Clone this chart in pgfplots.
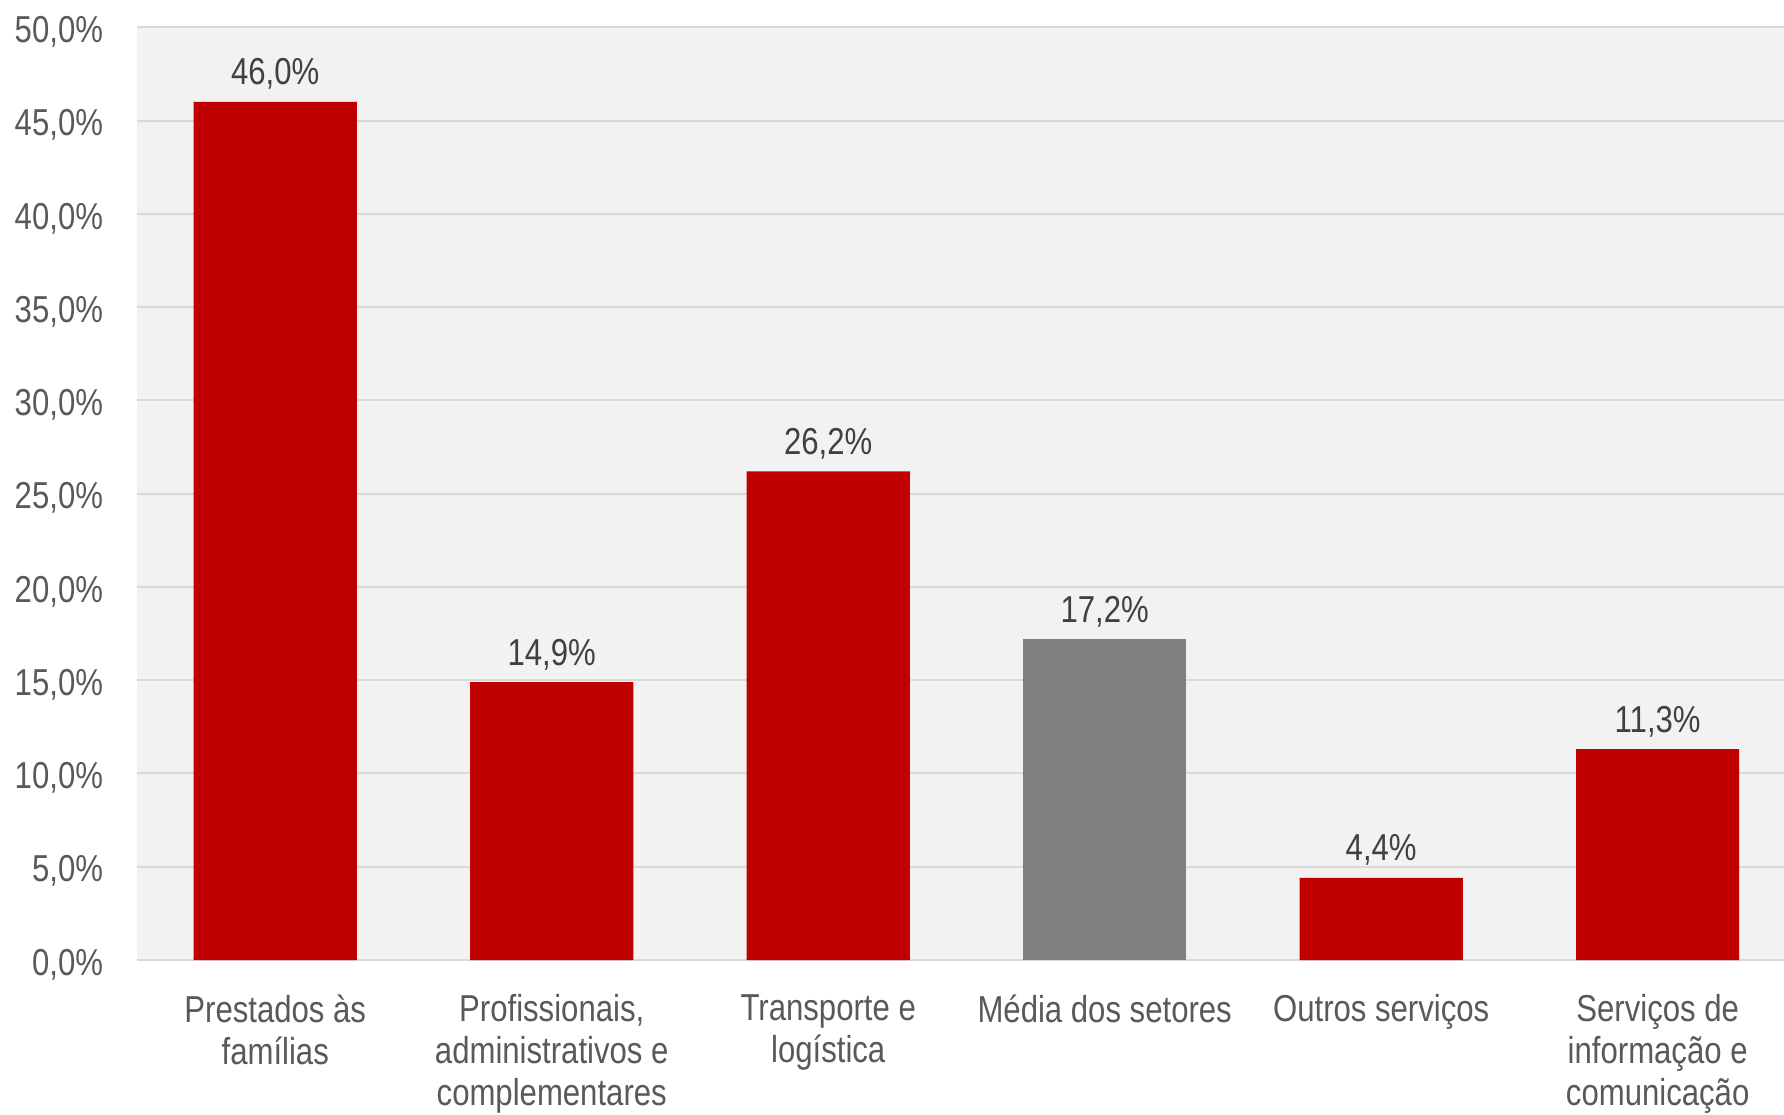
\documentclass[border=0pt]{standalone}
\usepackage{pgfplots}
\pgfplotsset{compat=1.18}
\usepackage{fontspec}
\setmainfont{Liberation Sans}[FakeStretch=0.83]
\definecolor{barred}{HTML}{C00000}
\definecolor{bargray}{HTML}{808080}
\definecolor{bgc}{HTML}{F2F2F2}
\definecolor{gridc}{HTML}{D9D9D9}
\definecolor{tickc}{HTML}{595959}
\definecolor{labc}{HTML}{404040}
\begin{document}
\begin{tikzpicture}
\clip (0,0) rectangle (713.6pt,445.6pt);
\begin{axis}[
  at={(54.8pt,61.6pt)}, anchor=south west,
  scale only axis, width=658.8pt, height=373.08pt,
  xmin=-0.5, xmax=5.457, ymin=0, ymax=50,
  axis background/.style={fill=bgc},
  axis line style={draw=none},
  ymajorgrids, grid style={gridc, line width=0.8pt},
  ytick={0,5,10,15,20,25,30,35,40,45,50},
  major tick length=0pt,
  xtick={0,1,2,3,4,5},
  xticklabels={{Prestados às\\famílias},{Profissionais,\\administrativos e\\complementares},{Transporte e\\logística},{Média dos setores},{Outros serviços},{Serviços de\\informação e\\comunicação}},
  /pgf/number format/assume math mode=true,
  every tick label/.append style={font=\fontsize{15}{16.8}\selectfont, text=tickc},
  xticklabel style={align=center, anchor=north, inner sep=0pt, yshift=-13.6pt},
  yticklabel style={anchor=east, inner sep=0pt, xshift=-13.4pt, yshift=-1.8pt},
  yticklabel={\pgfmathprintnumber[fixed,fixed zerofill,precision=1,use comma]{\tick}\%},
  ybar, bar width=0.59,
  nodes near coords={\pgfmathprintnumber[fixed,fixed zerofill,precision=1,use comma,assume math mode=true]{\pgfplotspointmeta}\%},
  nodes near coords style={anchor=base, inner sep=0pt, yshift=6.8pt, font=\fontsize{15}{18}\selectfont, text=labc},
]
\addplot[bar shift=0pt, fill=barred, draw=none] coordinates {(0,46.0) (1,14.9) (2,26.2) (4,4.4) (5,11.3)};
\addplot[bar shift=0pt, fill=bargray, draw=none] coordinates {(3,17.2)};
\end{axis}
\end{tikzpicture}
\end{document}
